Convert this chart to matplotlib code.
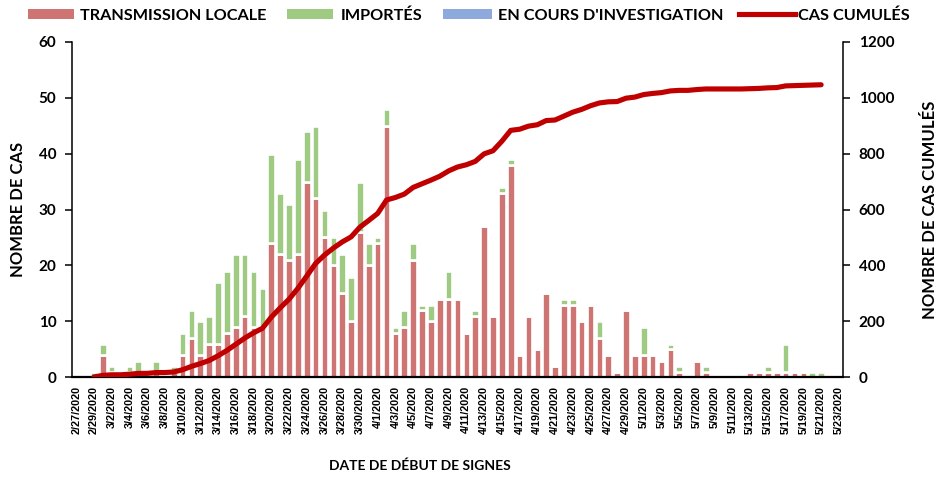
import matplotlib
matplotlib.use("Agg")
import matplotlib.pyplot as plt
import numpy as np
import pandas as pd
from matplotlib.patches import Patch
from matplotlib.lines import Line2D

# ---- data -------------------------------------------------------------
# x-axis categories: every day from 2/27/2020 to 5/23/2020
axis_start = "2020-02-27"
axis_end = "2020-05-23"
# data days: 2/29/2020 .. 5/21/2020
data_start = "2020-02-29"
data_end = "2020-05-21"

transmission_locale = [
    0, 4, 1, 0, 1, 1, 0, 1, 0, 1,          # 2/29 - 3/9
    4, 7, 4, 6, 6, 8, 9, 11, 9, 9,         # 3/10 - 3/19
    24, 22, 21, 22, 35, 32, 25, 20, 15, 10,  # 3/20 - 3/29
    26, 20, 24, 45, 8, 9, 21, 12, 10, 14,  # 3/30 - 4/8
    14, 14, 8, 11, 27, 11, 33, 38, 4, 11,  # 4/9 - 4/18
    5, 15, 2, 13, 13, 10, 13, 7, 4, 1,     # 4/19 - 4/28
    12, 4, 4, 4, 3, 5, 1, 0, 3, 1,         # 4/29 - 5/8
    0, 0, 0, 0, 1, 1, 1, 1, 1, 1,          # 5/9 - 5/18
    1, 0, 0,                               # 5/19 - 5/21
]
importes = [
    1, 2, 1, 0, 1, 2, 0, 2, 0, 1,
    4, 5, 6, 5, 11, 11, 13, 11, 10, 7,
    16, 11, 10, 17, 9, 13, 5, 5, 7, 8,
    9, 4, 1, 3, 1, 3, 3, 1, 3, 0,
    5, 0, 0, 1, 0, 0, 1, 1, 0, 0,
    0, 0, 0, 1, 1, 0, 0, 3, 0, 0,
    0, 0, 5, 0, 0, 1, 1, 0, 0, 1,
    0, 0, 0, 0, 0, 0, 1, 0, 5, 0,
    0, 1, 1,
]
en_cours_investigation = [0] * len(importes)

series_labels = ["TRANSMISSION LOCALE", "IMPORTÉS", "EN COURS D'INVESTIGATION", "CAS CUMULÉS"]

# ---- derived -----------------------------------------------------------
cats = pd.date_range(axis_start, axis_end, freq="D")
days = pd.date_range(data_start, data_end, freq="D")
cat_labels = [f"{d.month}/{d.day}/{d.year}" for d in cats]
xpos = np.array([cats.get_loc(d) for d in days])
loc = np.array(transmission_locale, dtype=float)
imp = np.array(importes, dtype=float)
inv = np.array(en_cours_investigation, dtype=float)
cumul = np.cumsum(loc + imp + inv)

# ---- style -------------------------------------------------------------
C_LOC = "#CE7472"
C_IMP = "#9ECB81"
C_INV = "#8EAADC"
C_CUM = "#C00000"
FONT = ["Lato", "DejaVu Sans"]
TICKFONT = ["Liberation Sans", "DejaVu Sans"]
plt.rcParams["font.family"] = FONT

W, H = 944, 478
fig = plt.figure(figsize=(W / 100, H / 100), dpi=100)
L, R, T, B = 71.7, 843.3, 41.7, 377.3
ax = fig.add_axes([L / W, 1 - B / H, (R - L) / W, (B - T) / H])
ax2 = ax.twinx()

bw = 0.86
elw = 1.9
ax.bar(xpos, loc, width=bw, color=C_LOC, edgecolor="white", linewidth=elw, zorder=2)
ax.bar(xpos, imp, width=bw, bottom=loc, color=C_IMP, edgecolor="white", linewidth=elw, zorder=2)
ax.bar(xpos, inv, width=bw, bottom=loc + imp, color=C_INV, linewidth=0, zorder=2)

ax2.plot(xpos, cumul, color=C_CUM, linewidth=3.7, solid_capstyle="round",
         solid_joinstyle="round", zorder=3)

ax.set_xlim(-0.5, len(cats) - 0.5)
ax.set_ylim(0, 60)
ax2.set_ylim(0, 1200)
ax.set_yticks(np.arange(0, 61, 10))
ax2.set_yticks(np.arange(0, 1201, 200))

ax.set_xticks(np.arange(0, len(cats), 2))
ax.set_xticklabels(cat_labels[::2], rotation=90, fontsize=7.8,
                   family=TICKFONT, fontweight="bold")
ax.tick_params(axis="x", length=0, pad=6)
ax.tick_params(axis="y", direction="out", length=5, width=1.1, pad=6, labelsize=11)
ax2.tick_params(axis="y", direction="out", length=5, width=1.1, pad=6, labelsize=11)
for lab in ax.get_yticklabels() + ax2.get_yticklabels():
    lab.set_fontweight("bold")

for a in (ax, ax2):
    a.spines["top"].set_visible(False)
    a.spines["left"].set_linewidth(1.1)
    a.spines["right"].set_linewidth(1.1)
    a.spines["bottom"].set_linewidth(1.6)
    a.set_facecolor("none")
ax.spines["right"].set_visible(False)
ax2.spines["left"].set_visible(False)
ax2.spines["bottom"].set_visible(False)

ax.set_ylabel("NOMBRE DE CAS", fontsize=12, fontweight="bold", va="center")
ax.yaxis.set_label_coords((18 - L) / (R - L), 0.5)
ax2.set_ylabel("NOMBRE DE CAS CUMULÉS", fontsize=12, fontweight="bold",
               rotation=90, va="center")
ax2.yaxis.set_label_coords((930 - L) / (R - L), 0.5)
ax.set_xlabel("DATE DE DÉBUT DE SIGNES", fontsize=10, fontweight="bold", va="center")
ax.xaxis.set_label_coords((420 - L) / (R - L), (B - 466) / (B - T))

# legend: one entry per block so each sits where the reference has it
leg_fs = 11.7
fs_px = leg_fs * 100 / 72
entries = [
    (Patch(facecolor=C_LOC, edgecolor="none"), series_labels[0], 28, 46, 6),
    (Patch(facecolor=C_IMP, edgecolor="none"), series_labels[1], 287, 46, 8),
    (Patch(facecolor=C_INV, edgecolor="none"), series_labels[2], 443, 49, 6),
    (Line2D([], [], color=C_CUM, linewidth=3.7), series_labels[3], 739, 56, 3),
]
for handle, text, x0, hlen, gap in entries:
    fig.legend([handle], [text], loc="center left",
               bbox_to_anchor=(x0 / W, 1 - 15.5 / H), frameon=False,
               prop={"family": FONT, "weight": "bold", "size": leg_fs},
               handlelength=hlen / fs_px, handleheight=0.55,
               handletextpad=gap / fs_px, borderaxespad=0, borderpad=0)

fig.savefig("out.png", dpi=100)
